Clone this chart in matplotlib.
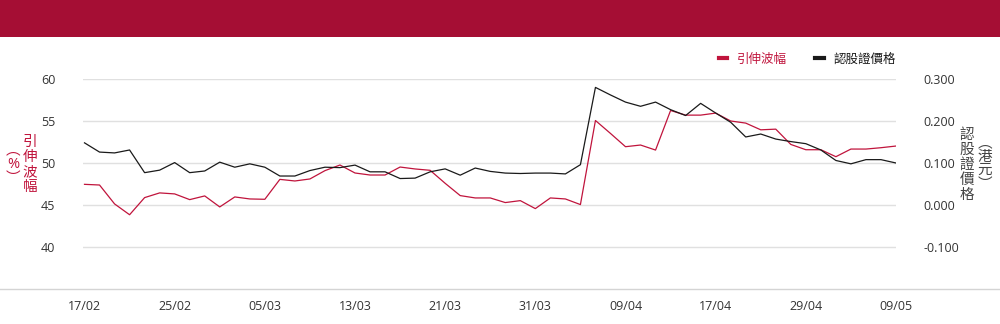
import matplotlib
matplotlib.use("Agg")
import matplotlib.pyplot as plt
from matplotlib.lines import Line2D
from matplotlib.patches import Rectangle

plt.rcParams['font.family'] = ['Open Sans', 'Noto Sans CJK TC', 'DejaVu Sans']

dates = ["17/02", "18/02", "19/02", "20/02", "21/02", "24/02", "25/02", "26/02", "27/02", "28/02",
         "03/03", "04/03", "05/03", "06/03", "07/03", "10/03", "11/03", "12/03", "13/03", "14/03",
         "17/03", "18/03", "19/03", "20/03", "21/03", "24/03", "25/03", "26/03", "27/03", "28/03",
         "31/03", "01/04", "02/04", "03/04", "07/04", "08/04", "09/04", "10/04", "11/04", "14/04",
         "15/04", "16/04", "17/04", "22/04", "23/04", "24/04", "25/04", "28/04", "29/04", "30/04",
         "02/05", "06/05", "07/05", "08/05", "09/05"]

implied_vol = [47.46, 47.38, 45.13, 43.84, 45.88, 46.44, 46.32, 45.64, 46.08, 44.77,
               45.96, 45.72, 45.68, 48.05, 47.86, 48.10, 49.09, 49.76, 48.81, 48.57,
               48.57, 49.52, 49.29, 49.13, 47.58, 46.12, 45.84, 45.84, 45.29, 45.52,
               44.57, 45.84, 45.72, 45.05, 55.06, 53.52, 51.94, 52.14, 51.54, 56.25,
               55.70, 55.70, 55.94, 55.00, 54.75, 53.95, 54.03, 52.21, 51.58, 51.58,
               50.75, 51.66, 51.66, 51.82, 52.02]

warrant_price = [0.148, 0.126, 0.124, 0.131, 0.077, 0.083, 0.101, 0.077, 0.081, 0.102,
                 0.090, 0.098, 0.090, 0.069, 0.069, 0.082, 0.090, 0.089, 0.095, 0.079,
                 0.079, 0.063, 0.064, 0.079, 0.086, 0.071, 0.088, 0.080, 0.076, 0.075,
                 0.076, 0.076, 0.074, 0.096, 0.280, 0.262, 0.245, 0.235, 0.245, 0.227,
                 0.213, 0.242, 0.219, 0.197, 0.162, 0.169, 0.157, 0.151, 0.146, 0.131,
                 0.106, 0.098, 0.108, 0.108, 0.100]

left_ticks = [40, 45, 50, 55, 60]
right_ticks = [-0.1, 0.0, 0.1, 0.2, 0.3]

RED = '#C0143C'
BLACK = '#1a1a1a'
HEADER = '#A50E34'
TXT = '#333333'

W, H = 1000, 324
fig = plt.figure(figsize=(W / 100, H / 100), dpi=100)
fig.patches.append(Rectangle((0, 1 - 37 / H), 1, 37 / H, transform=fig.transFigure,
                             facecolor=HEADER, edgecolor='none', zorder=0))
fig.lines.append(Line2D([0, 1], [1 - 289 / H] * 2, transform=fig.transFigure,
                        color='#d4d4d4', lw=1.0))

ax = fig.add_axes([83 / W, 1 - 289 / H, (896 - 83) / W, (289 - 79) / H])
ax2 = ax.twinx()

x = list(range(len(dates)))
l1, = ax.plot(x, implied_vol, color=RED, lw=0.9, zorder=3)
l2, = ax2.plot(x, warrant_price, color=BLACK, lw=0.9, zorder=3)

ax.set_xlim(-0.1, len(dates) - 1)
ax.set_ylim(35, 60)
ax2.set_ylim(-0.2, 0.3)
ax.set_yticks(left_ticks)
ax.set_yticklabels([str(v) for v in left_ticks])
ax2.set_yticks(right_ticks)
ax2.set_yticklabels([f"{v:.3f}" for v in right_ticks])
ax.set_xticks(x[::6])
ax.set_xticklabels(dates[::6])

for a in (ax, ax2):
    for s in a.spines.values():
        s.set_visible(False)
    a.tick_params(length=0, labelsize=9, colors=TXT)
ax.tick_params(axis='y', pad=20)
ax2.tick_params(axis='y', pad=20)
ax.tick_params(axis='x', pad=8)
ax.grid(axis='y', color='#e0e0e0', lw=1.0)
ax.set_axisbelow(True)

# axis titles (vertical stacked)
fig.text(30 / W, 1 - 165 / H, "\n".join("引伸波幅"), color=RED, fontsize=10.5,
         ha='center', va='center', linespacing=1.0)
fig.text(13 / W, 1 - 165 / H, "︵\n%\n︶", color=RED, fontsize=10.5,
         ha='center', va='center', linespacing=0.9)
fig.text(967 / W, 1 - 165 / H, "\n".join("認股證價格"), color='#444444', fontsize=10.5,
         ha='center', va='center', linespacing=1.0)
fig.text(985 / W, 1 - 164 / H, "︵\n港\n元\n︶", color='#444444', fontsize=10.5,
         ha='center', va='center', linespacing=0.85)

handles = [Line2D([], [], color=RED, lw=3), Line2D([], [], color=BLACK, lw=3)]
leg = ax.legend(handles, ["引伸波幅", "認股證價格"], loc='center right',
                bbox_to_anchor=(896 / W, 1 - 59 / H), bbox_transform=fig.transFigure,
                ncol=2, frameon=False, handlelength=0.65, handletextpad=0.8,
                columnspacing=2.3, borderpad=0, borderaxespad=0, fontsize=9)
leg.get_texts()[0].set_color(RED)
leg.get_texts()[1].set_color(BLACK)

fig.savefig("out.png", dpi=100)
